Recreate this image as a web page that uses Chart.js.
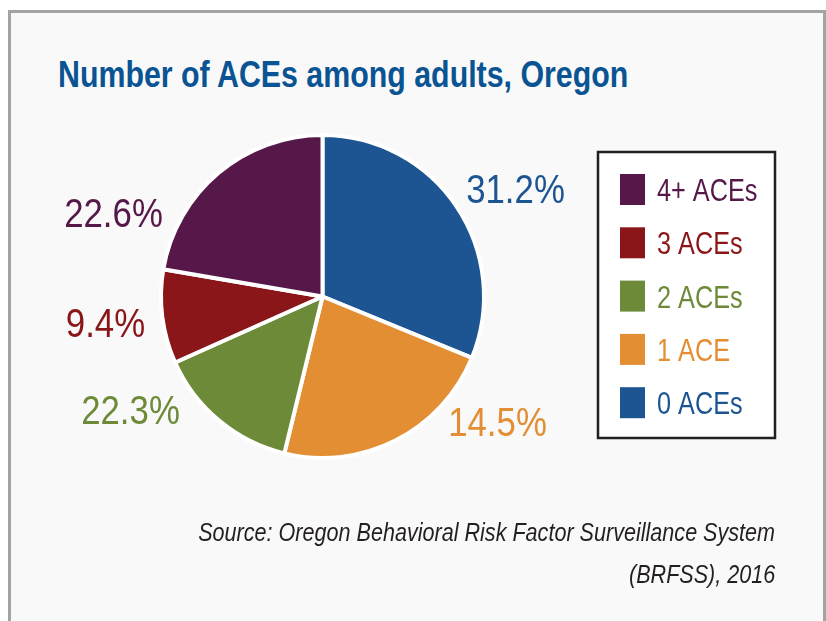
<!DOCTYPE html>
<html>
<head>
<meta charset="utf-8">
<script src="https://cdn.jsdelivr.net/npm/chart.js@4.4.1/dist/chart.umd.min.js"></script>
<style>
html, body { margin: 0; padding: 0; background: #fff; }
body { width: 826px; height: 621px; position: relative; overflow: hidden; font-family: "Liberation Sans", Arial, sans-serif; }
#frame { position: absolute; left: 8px; top: 10px; width: 812px; height: 640px; border: 3px solid #a3a3a3; border-bottom: none; background: #f9f9f9; }
#title { position: absolute; left: 58px; top: 56px; font-weight: bold; font-size: 37px; line-height: 1; color: #0a5493; white-space: nowrap; transform: scaleX(.82); transform-origin: 0 0; }
.src { position: absolute; right: 51px; font-style: italic; font-size: 26px; line-height: 1; color: #231f20; white-space: nowrap; transform: scaleX(.83); transform-origin: 100% 0; }
#wrap { position: absolute; left: 0; top: 0; width: 826px; height: 621px; }
</style>
</head>
<body>
<div id="frame"></div>
<div id="title">Number of ACEs among adults, Oregon</div>
<div id="wrap"><canvas id="pieChart"></canvas></div>
<div class="src" style="top:519px">Source: Oregon Behavioral Risk Factor Surveillance System</div>
<div class="src" style="top:561px">(BRFSS), 2016</div>
<script>
// data, clockwise from 12 o'clock
var categories = ['0 ACEs', '1 ACE', '2 ACEs', '3 ACEs', '4+ ACEs'];
var values = [31.2, 22.6, 14.5, 9.4, 22.3];
// percentages as printed next to each slice in the original
var printedLabels = ['31.2%', '14.5%', '22.3%', '9.4%', '22.6%'];
var colors = ['#1c5592', '#e38e32', '#6c8a38', '#8a1619', '#561848'];

// label offsets from the pie centre
var labelOffsets = [[193, -108], [175, 125], [-192, 113], [-217, 26], [-209, -84]];

function condensedText(ctx, txt, x, y, sx) {
    ctx.save();
    ctx.translate(x, y);
    ctx.scale(sx, 1);
    ctx.fillText(txt, 0, 0);
    ctx.restore();
}

var extrasPlugin = {
    id: 'extras',
    afterDraw: function (chart) {
        var ctx = chart.ctx;
        var arc = chart.getDatasetMeta(0).data[0];
        var cx = arc.x, cy = arc.y;

        // percentage labels
        ctx.save();
        ctx.font = '40px "Liberation Sans", Arial, sans-serif';
        ctx.textAlign = 'center';
        ctx.textBaseline = 'alphabetic';
        printedLabels.forEach(function (t, i) {
            ctx.fillStyle = colors[i];
            condensedText(ctx, t, cx + labelOffsets[i][0], cy + labelOffsets[i][1] + 14.5, 0.87);
        });
        ctx.restore();

        // legend box, reversed order
        ctx.save();
        ctx.fillStyle = '#ffffff';
        ctx.fillRect(598, 152, 177, 286);
        ctx.lineWidth = 2.5;
        ctx.strokeStyle = '#231f20';
        ctx.strokeRect(598, 152, 177, 286);
        ctx.font = '32px "Liberation Sans", Arial, sans-serif';
        ctx.textAlign = 'left';
        ctx.textBaseline = 'alphabetic';
        for (var k = 0; k < categories.length; k++) {
            var i = categories.length - 1 - k;
            var top = 174 + k * 53.3;
            ctx.fillStyle = colors[i];
            ctx.fillRect(620, top, 25, 31);
            condensedText(ctx, categories[i], 657, top + 15.5 + 11.5, 0.79);
        }
        ctx.restore();
    }
};

var ctxPie = document.getElementById('pieChart').getContext('2d');
new Chart(ctxPie, {
    type: 'pie',
    data: {
        labels: categories,
        datasets: [{
            data: values,
            backgroundColor: colors,
            borderColor: '#ffffff',
            borderWidth: 4
        }]
    },
    options: {
        responsive: true,
        maintainAspectRatio: false,
        animation: false,
        layout: { padding: { left: 159, top: 133, right: 340, bottom: 161 } },
        plugins: {
            legend: { display: false },
            tooltip: { enabled: false }
        }
    },
    plugins: [extrasPlugin]
});
</script>
</body>
</html>
